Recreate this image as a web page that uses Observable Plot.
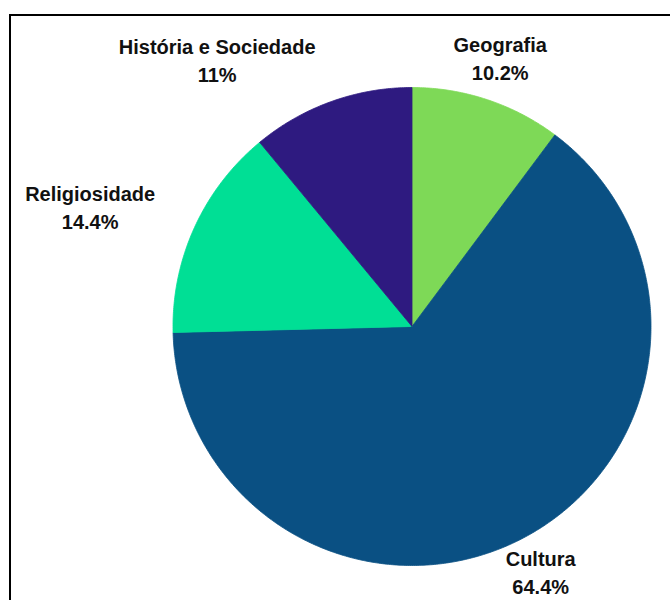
<!DOCTYPE html>
<html>
<head>
<meta charset="utf-8">
<script src="https://cdn.jsdelivr.net/npm/d3@7"></script>
<script src="https://cdn.jsdelivr.net/npm/@observablehq/plot@0.6"></script>
<style>
  html, body { margin: 0; padding: 0; background: #fff; }
  #wrap { position: relative; width: 670px; height: 600px; overflow: hidden; }
  #frame { position: absolute; left: 9px; top: 14px; width: 700px; height: 700px; border: 2px solid #000; pointer-events: none; box-sizing: border-box; }
</style>
</head>
<body>
<div id="wrap"><div id="chart"></div><div id="frame"></div></div>
<script>
// Data
const categories = ["Geografia", "Cultura", "Religiosidade", "História e Sociedade"];
const values = [10.2, 64.4, 14.4, 11];
const colors = ["#7ED957", "#0A5083", "#00DF95", "#2E1A80"];

// Layout
const W = 670, H = 600;
const cx = 411.5, cy = 326, R = 239, labelR = 280, labelDy = -4;
const labelNudge = {"Religiosidade": -67, "História e Sociedade": -100};

const pie = d3.pie().sort(null).value((d, i) => values[i])(categories);

const points = [];
const labels = [];
pie.forEach((p, i) => {
  const name = categories[i];
  const a0 = p.startAngle, a1 = p.endAngle;
  points.push({slice: name, x: cx, y: cy, color: colors[i]});
  const n = Math.max(2, Math.ceil((a1 - a0) / (Math.PI / 360)));
  for (let k = 0; k <= n; k++) {
    const a = a0 + (a1 - a0) * k / n;
    points.push({slice: name, x: cx + R * Math.sin(a), y: cy - R * Math.cos(a), color: colors[i]});
  }
  points.push({slice: name, x: cx, y: cy, color: colors[i]});
  const am = (a0 + a1) / 2;
  labels.push({
    text: `${name}\n${values[i]}%`,
    x: cx + labelR * Math.sin(am) + (labelNudge[name] || 0),
    y: cy - labelR * Math.cos(am) + labelDy
  });
});

const chart = Plot.plot({
  width: W,
  height: H,
  margin: 0,
  style: {fontFamily: "'Liberation Sans', Arial, sans-serif", background: "transparent"},
  x: {domain: [0, W], range: [0, W], axis: null},
  y: {domain: [0, H], range: [0, H], axis: null},
  marks: [
    Plot.line(points, {x: "x", y: "y", z: "slice", fill: "color", stroke: "color", strokeWidth: 0.8, curve: "linear"}),
    Plot.text(labels, {x: "x", y: "y", text: "text", fontSize: 20, fontWeight: "bold", fill: "#111", lineHeight: 1.4, textAnchor: "middle", lineAnchor: "middle"})
  ]
});
document.getElementById("chart").appendChild(chart);
</script>
</body>
</html>
